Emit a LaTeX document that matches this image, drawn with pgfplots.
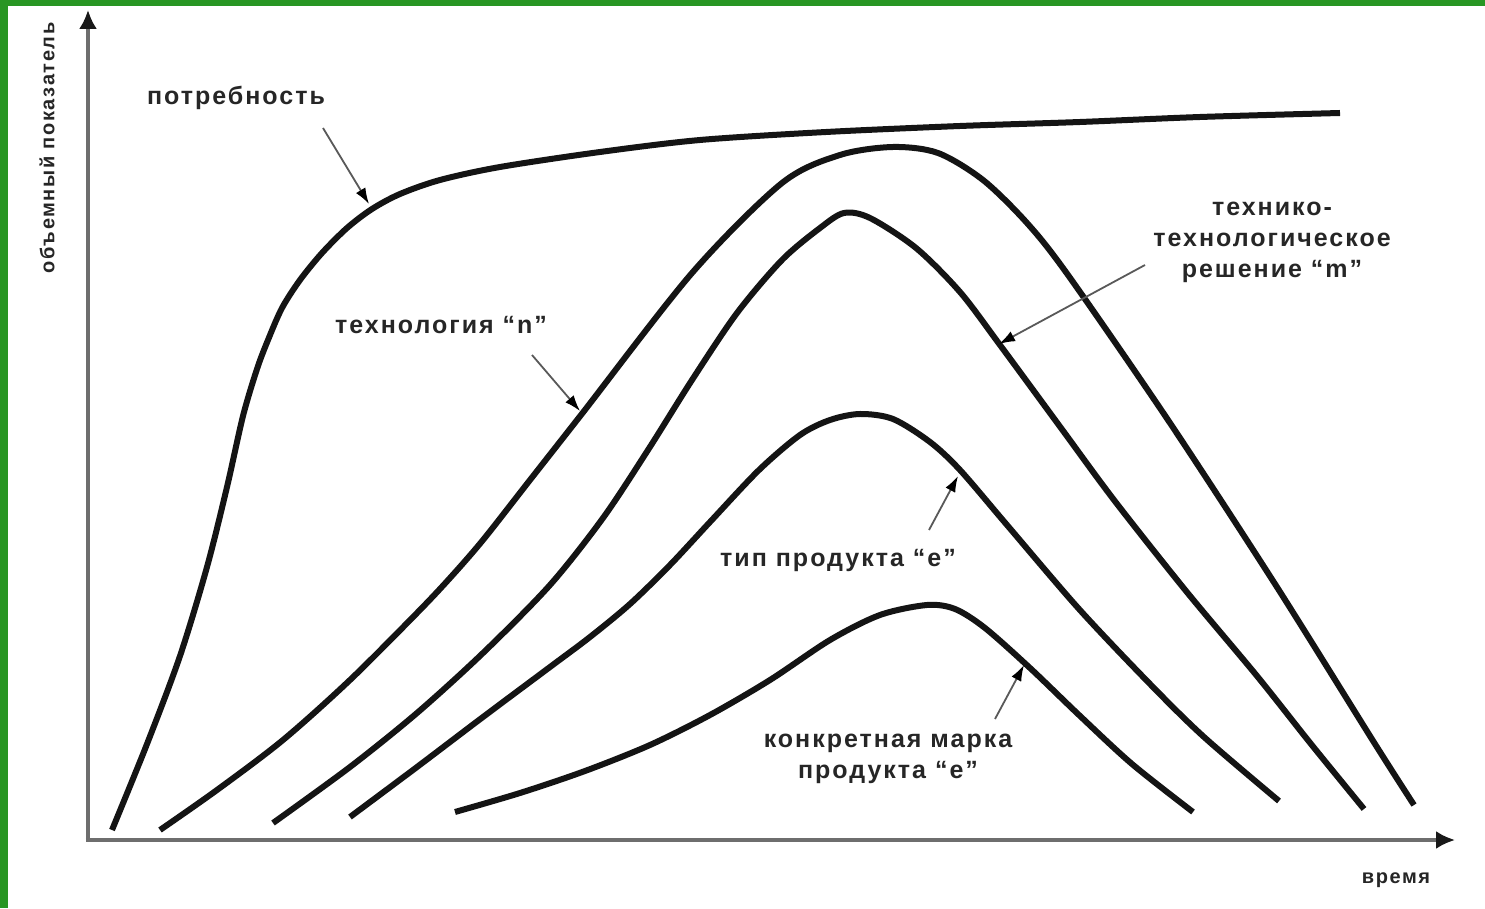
\documentclass[border=0pt]{standalone}
\usepackage{pgfplots}
\pgfplotsset{compat=1.18}
\usepackage{fontspec}
\setmainfont{Liberation Sans}[LetterSpace=8]
\usetikzlibrary{arrows.meta}
\definecolor{frame}{RGB}{40,150,35}
\definecolor{axgray}{RGB}{110,110,110}
\tikzset{
  anno/.style={font=\bfseries\fontsize{25}{31}\selectfont, text=black!85, align=center, inner sep=0pt},
  arr/.style={line width=1.8pt, draw=black!65, -{Latex[length=16pt,width=11pt,color=black]}},
  axarr/.style={line width=3.2pt, draw=axgray, -{Latex[length=19pt,width=18pt,color=black!90]}},
  curve/.style={draw=black!92, line width=6pt, mark=none, smooth, line cap=butt, line join=round},
}
\begin{document}
\begin{tikzpicture}
\fill[white] (-88pt,-68pt) rectangle (1397pt,840pt);
\begin{axis}[
  at={(0pt,0pt)}, anchor=south west,
  scale only axis, width=1367pt, height=830pt,
  xmin=88, xmax=1455, ymin=0, ymax=830,
  enlargelimits=false, clip=false,
  axis lines=none, xtick=\empty, ytick=\empty,
]
% axes
\draw[axarr] (axis cs:86,0) -- (axis cs:1455,0);
\draw[axarr] (axis cs:88,-1.5) -- (axis cs:88,830);
% потребность
\addplot[curve] coordinates {(112,10)(147,96)(180,184)(207,273)(227,353)(243,424)(257,471)(268,500)(282,532)(300,560)(322,587)(347,612)(372,631)(400,646)(440,660)(500,673)(600,688)(700,700)(826,708)(960,714)(1080,718)(1200,723)(1340,727)};
% технология n
\addplot[curve] coordinates {(160,10)(217,50)(283,100)(350,160)(417,227)(450,262)(483,300)(530,360)(581,425)(692,567)(782,657)(840,685)(893,693)(938,687)(983,660)(1027,617)(1068,565)(1168,420)(1275,256)(1375,96)(1414,35)};
% решение m
\addplot[curve] coordinates {(273,17)(350,73)(417,127)(483,187)(550,255)(603,322)(648,390)(692,460)(737,527)(782,580)(820,612)(844,627)(870,622)(916,592)(960,548)(1000,495)(1061,412)(1114,340)(1186,249)(1257,164)(1311,96)(1364,31)};
% тип продукта
\addplot[curve] coordinates {(350,23)(417,73)(483,123)(550,173)(590,203)(630,236)(670,275)(710,318)(759,370)(800,405)(830,420)(860,426)(893,421)(930,398)(960,370)(1007,315)(1079,231)(1150,156)(1204,103)(1279,39)};
% марка
\addplot[curve] coordinates {(455,28)(520,47)(585,69)(650,95)(710,125)(770,160)(830,200)(880,225)(927,235)(955,231)(985,212)(1030,172)(1079,125)(1132,76)(1193,28)};
% arrows
\draw[arr] (axis cs:323,712) -- (axis cs:369,636);
\draw[arr] (axis cs:532,485) -- (axis cs:580,429);
\draw[arr] (axis cs:1145,575) -- (axis cs:999,496);
\draw[arr] (axis cs:929,310) -- (axis cs:958,364);
\draw[arr] (axis cs:995,121) -- (axis cs:1024,175);
% labels
\node[anno] at (axis cs:236,742) {потребность};
\node[anno] at (axis cs:441,515) {технология “n”};
\node[anno] at (axis cs:1272,598) {технико-\\технологическое\\решение “m”};
\node[anno] at (axis cs:838,280) {тип продукта “е”};
\node[anno] at (axis cs:888,81) {конкретная марка\\продукта “е”};
\node[anno, font=\bfseries\fontsize{20}{24}\selectfont] at (axis cs:1396,-40) {время};
\node[anno, font=\bfseries\fontsize{20}{24}\selectfont, rotate=90] at (axis cs:47,692) {объемный показатель};
\end{axis}
\fill[frame] (-88pt,-68pt) rectangle (-80pt,840pt);
\fill[frame] (-88pt,834pt) rectangle (1397pt,840pt);
\end{tikzpicture}
\end{document}
